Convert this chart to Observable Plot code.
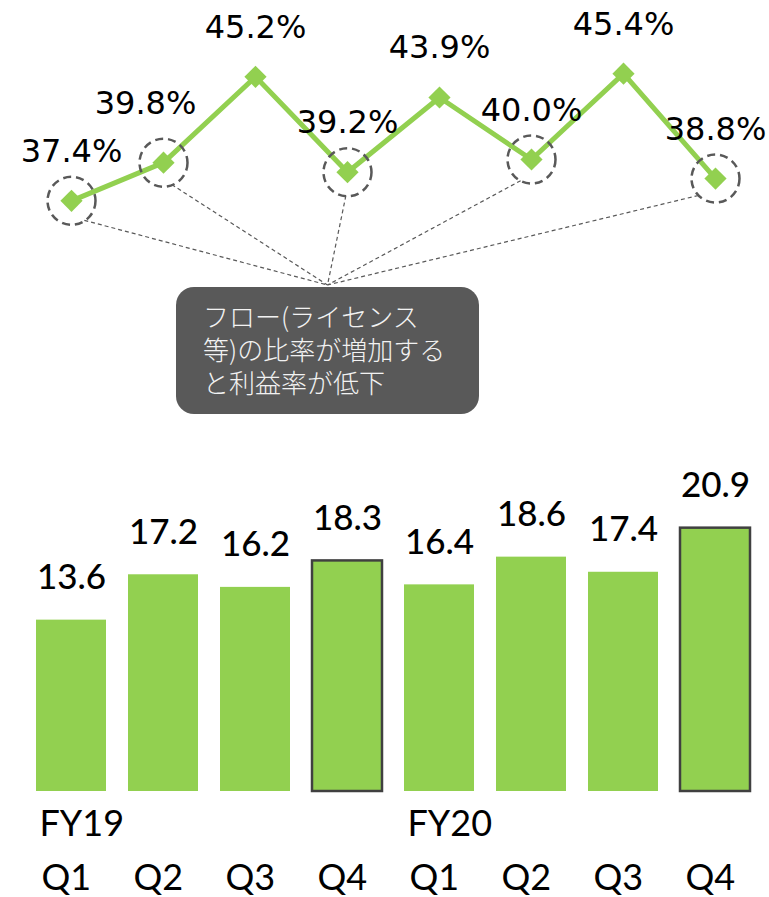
<!DOCTYPE html>
<html>
<head>
<meta charset="utf-8">
<script src="https://cdn.jsdelivr.net/npm/d3@7"></script>
<script src="https://cdn.jsdelivr.net/npm/@observablehq/plot@0.6"></script>
<style>
  html, body { margin: 0; padding: 0; background: #fff; overflow: hidden; }
  #chart { width: 769px; height: 897px; }
  #chart svg { display: block; }
</style>
</head>
<body>
<div id="chart"></div>
<script>
// ---- data ----
const years = ["FY19", "FY19", "FY19", "FY19", "FY20", "FY20", "FY20", "FY20"];
const quarters = ["Q1", "Q2", "Q3", "Q4", "Q1", "Q2", "Q3", "Q4"];
const revenue = [13.6, 17.2, 16.2, 18.3, 16.4, 18.6, 17.4, 20.9];
const marginPct = [37.4, 39.8, 45.2, 39.2, 43.9, 40.0, 45.4, 38.8];
const outlined = [false, false, false, true, false, false, false, true];
const circled = [true, true, false, true, false, true, false, true];
const calloutLines = ["フロー(ライセンス", "等)の比率が増加する", "と利益率が低下"];

const table = years.map((y, i) => ({
  key: `${y} ${quarters[i]}`,
  year: y,
  quarter: quarters[i],
  revenue: revenue[i],
  margin: marginPct[i],
  outlined: outlined[i],
  circled: circled[i]
}));
const keys = table.map(d => d.key);

const GREEN = "#92d050";
const GRAY = "#595959";

const xOpts = {
  type: "band", domain: keys, range: [22, 765],
  paddingInner: 0.235, paddingOuter: 0.1175, axis: null
};

// ---- top: margin line ----
const linePlot = Plot.plot({
  width: 769, height: 430, margin: 0,
  x: xOpts,
  y: {domain: [30, 50], range: [318, 0], axis: null},
  marks: [
    Plot.line(table, {x: "key", y: "margin", stroke: GREEN, strokeWidth: 5}),
    Plot.dot(table, {x: "key", y: "margin", symbol: "diamond2", r: 10, fill: GREEN, stroke: "none"}),
    Plot.dot(table.filter(d => d.circled), {
      x: "key", y: "margin", r: 24, fill: "none",
      stroke: GRAY, strokeWidth: 2.5, strokeDasharray: "8,5"
    }),
    Plot.text(table.filter(d => d.key !== "FY19 Q2"), {
      x: "key", y: "margin", text: d => d.margin.toFixed(1) + "%",
      dy: -39, lineAnchor: "bottom", fontSize: 32, fontFamily: "DejaVu Sans", fill: "#000"
    }),
    Plot.text(table.filter(d => d.key === "FY19 Q2"), {
      x: "key", y: "margin", text: d => d.margin.toFixed(1) + "%",
      dx: -18, dy: -49, lineAnchor: "bottom", fontSize: 32, fontFamily: "DejaVu Sans", fill: "#000"
    })
  ]
});

// callout box + connectors (annotation)
{
  const svg = d3.select(linePlot);
  const xs = linePlot.scale("x"), ys = linePlot.scale("y");
  const bw = xs.bandwidth;
  const box = {x: 176, y: 287, w: 303, h: 127};
  const ax = box.x + box.w / 2, ay = box.y - 2;
  const links = svg.insert("g", "g")
    .attr("stroke", GRAY).attr("stroke-width", 1.2).attr("stroke-dasharray", "4,3").attr("fill", "none");
  table.filter(d => d.circled).forEach(d => {
    const cx = xs.apply(d.key) + bw / 2;
    const cy = ys.apply(d.margin);
    let dx = ax - cx, dy = ay + 300 - cy;
    const len = Math.hypot(dx, dy);
    dx /= len; dy /= len;
    links.append("line")
      .attr("x1", cx + 24 * dx).attr("y1", cy + 24 * dy)
      .attr("x2", ax).attr("y2", ay);
  });
  const g = svg.append("g").attr("text-anchor", "start");
  g.append("rect")
    .attr("x", box.x).attr("y", box.y).attr("width", box.w).attr("height", box.h)
    .attr("rx", 18).attr("ry", 18).attr("fill", GRAY);
  g.selectAll("text").data(calloutLines).join("text")
    .attr("x", box.x + 27)
    .attr("y", (d, i) => box.y + 40 + i * 33)
    .attr("text-anchor", "start")
    .attr("fill", "#f2f2f2")
    .attr("font-family", "'Noto Sans CJK JP', sans-serif")
    .attr("font-size", 26)
    .attr("font-weight", 300)
    .text(d => d);
}

// ---- bottom: revenue bars ----
const barPlot = Plot.plot({
  width: 769, height: 467, margin: 0,
  x: xOpts,
  y: {domain: [0, 25], range: [361, 46], axis: null},
  marks: [
    Plot.barY(table, {x: "key", y: "revenue", fill: GREEN}),
    Plot.barY(table.filter(d => d.outlined), {
      x: "key", y: "revenue", fill: GREEN, stroke: "#404040", strokeWidth: 2.5
    }),
    Plot.text(table, {
      x: "key", y: "revenue", text: d => d.revenue.toFixed(1),
      dy: -31, lineAnchor: "bottom", fontSize: 35, fontFamily: "Lato", fontWeight: 500, fill: "#000"
    }),
    Plot.text(table.filter(d => d.quarter === "Q1"), {
      x: "key", text: "year", frameAnchor: "bottom", textAnchor: "start",
      dx: -32, dy: -62, lineAnchor: "bottom", fontSize: 36, fontFamily: "Lato", fill: "#000"
    }),
    Plot.text(table, {
      x: "key", text: "quarter", frameAnchor: "bottom", textAnchor: "start",
      dx: -30, dy: -8, lineAnchor: "bottom", fontSize: 36, fontFamily: "Lato", fill: "#000"
    })
  ]
});

document.getElementById("chart").append(linePlot, barPlot);
</script>
</body>
</html>
